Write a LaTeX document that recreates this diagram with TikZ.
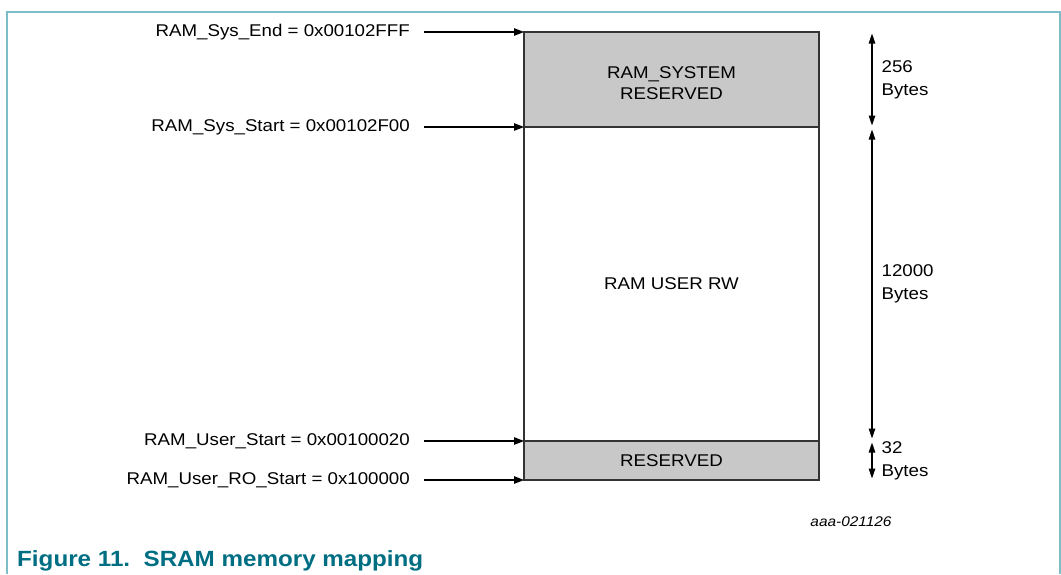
\documentclass[tikz,border=0pt]{standalone}
\usepackage{fontspec}
\setmainfont{Liberation Sans}[FakeStretch=1.1]
\usepackage{xcolor}
\usetikzlibrary{arrows.meta, positioning, calc}
\definecolor{framecol}{RGB}{125,190,200}
\definecolor{captioncol}{RGB}{0,110,130}
\definecolor{regiongray}{RGB}{200,200,200}
\tikzstyle{region} = [rectangle, draw=black!80, line width=1.3pt, minimum width=295pt, outer sep=0pt, inner sep=0pt, align=center, font=\fontsize{17}{23}\selectfont]
\tikzstyle{addr} = [font=\fontsize{17}{23}\selectfont, inner xsep=14pt, inner ysep=2pt]
\tikzstyle{arrow} = [line width=1.2pt, -{Triangle[length=10pt,width=7.5pt]}]
\tikzstyle{dim} = [line width=1.2pt, {Triangle[length=10pt,width=6.5pt]}-{Triangle[length=10pt,width=6.5pt]}, shorten <=1.5pt, shorten >=1.5pt]
\tikzstyle{sizelbl} = [font=\fontsize{17}{23}\selectfont, align=left, right, inner xsep=9pt]

\begin{document}
\begin{tikzpicture}[x=1pt, y=-1pt]
        \useasboundingbox (0,0) rectangle (1061,574);
        % frame
        \draw[framecol, line width=1.5pt] (7,574) |- (1060,12) -- (1060,574);

        % memory regions
        \node (sys) [region, fill=regiongray, minimum height=95pt,
            label={[align=center, font=\fontsize{17}{21}\selectfont, yshift=-4pt]center:{RAM\_SYSTEM\\RESERVED}}] at (671.5,79.5) {};
        \node (user) [region, minimum height=314pt, below=0pt of sys] {RAM USER RW};
        \node (res) [region, fill=regiongray, minimum height=39pt, below=0pt of user] {RESERVED};

        % addresses
        \node (sys_end) [addr, left=100pt of sys.north west] {RAM\_Sys\_End = 0x00102FFF};
        \node (sys_start) [addr, left=100pt of sys.south west] {RAM\_Sys\_Start = 0x00102F00};
        \node (user_start) [addr, left=100pt of res.north west] {RAM\_User\_Start = 0x00100020};
        \node (user_ro) [addr, left=100pt of res.south west] {RAM\_User\_RO\_Start = 0x100000};

        \draw[arrow] (sys_end) -- (sys.north west);
        \draw[arrow] (sys_start) -- (sys.south west);
        \draw[arrow] (user_start) -- (res.north west);
        \draw[arrow] (user_ro) -- (res.south west);

        % sizes
        \coordinate (d0) at ($(sys.north east)+(53,0)$);
        \coordinate (d1) at ($(sys.south east)+(53,0)$);
        \coordinate (d2) at ($(res.north east)+(53,0)$);
        \coordinate (d3) at ($(res.south east)+(53,0)$);

        \draw[dim] (d0) -- node[sizelbl] {256\\Bytes} (d1);
        \draw[dim, shorten <=2.5pt, shorten >=2.5pt] (d1) -- node[sizelbl] {12000\\Bytes} (d2);
        \draw[dim] (d2) -- node[sizelbl] {32\\Bytes} (d3);

        \node (fig_tag) [font=\itshape\fontsize{14}{16}\selectfont] at (851,522) {aaa-021126};
        \node (fig_caption) [anchor=base west, inner sep=0pt, text=captioncol, font=\bfseries\fontsize{22}{26}\selectfont] at (17,566) {Figure 11.\ \ SRAM memory mapping};
    \end{tikzpicture}
\end{document}
